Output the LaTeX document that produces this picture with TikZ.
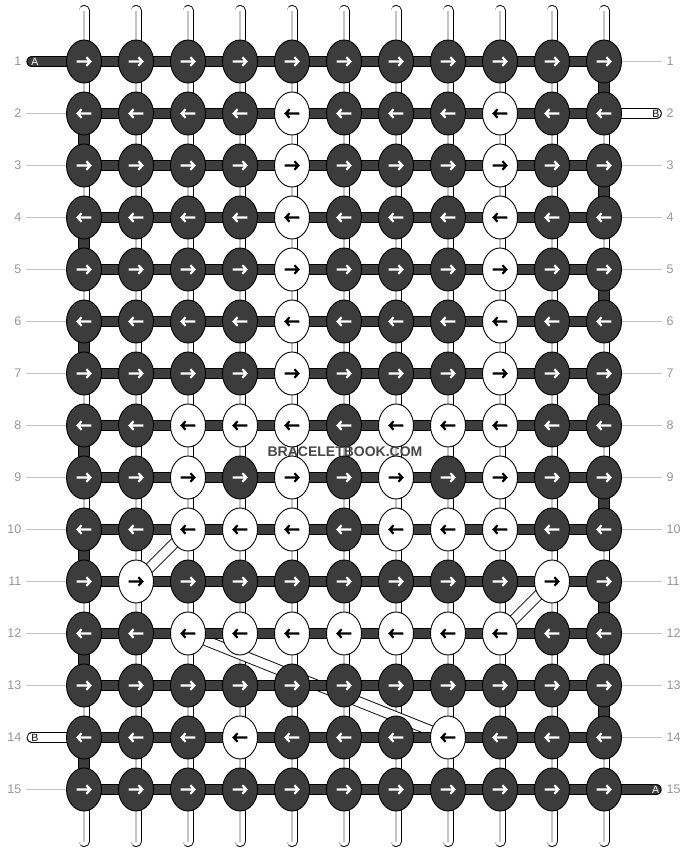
\documentclass[tikz,border=0pt]{standalone}
\usepackage{fontspec}
\setmainfont{Liberation Sans}
\usetikzlibrary{shapes.geometric}
\definecolor{knotdark}{HTML}{3C3C3C}
\definecolor{numgrey}{HTML}{959595}
\definecolor{leadgrey}{HTML}{C2C2C2}
\definecolor{warpgrey}{HTML}{C4C4C4}
\definecolor{wmark}{HTML}{484848}
\pgfdeclarelayer{lab}
\pgfdeclarelayer{warp}
\pgfdeclarelayer{diag}
\pgfdeclarelayer{weft}
\pgfsetlayers{lab,warp,diag,weft,main}
\begin{document}
\begin{tikzpicture}[x=1pt,y=-1pt,
  knot/.style={ellipse, draw=black, line width=0.9pt, minimum width=35pt, minimum height=43pt, inner sep=0pt},
  arrowline/.style={line width=2.2pt, line cap=butt, line join=miter},
  rownum/.style={text=numgrey, font=\fontsize{12.5}{14}\selectfont, inner sep=0pt},
  endlab/.style={font=\fontsize{10.5}{12}\selectfont, inner sep=0pt},
  leader/.style={draw=leadgrey, line width=0.9pt},
  warpout/.style={draw=black, line width=11pt, line cap=round},
  warpin/.style={draw=white, line width=9.2pt, line cap=round},
  warpmid/.style={draw=warpgrey, line width=2.2pt, line cap=butt},
  weftout/.style={draw=black, line width=11.8pt},
  weftin/.style={draw=knotdark, line width=9.8pt},
  bout/.style={draw=black, line width=11.4pt, line cap=round},
  bin/.style={draw=white, line width=9.6pt, line cap=round},
  diagout/.style={draw=black, line width=10.8pt},
  diagin/.style={draw=white, line width=9pt},
  wm/.style={font=\bfseries\fontsize{14}{16}\selectfont, inner sep=0pt}
]
\useasboundingbox (0,0) rectangle (688,852);

% knots
\foreach \r/\wl in {1/{0},2/{5,9},3/{5,9},4/{5,9},5/{5,9},6/{5,9},7/{5,9},8/{3,4,5,7,8,9},9/{3,5,7,9},10/{3,4,5,7,8,9},11/{2,10},12/{3,4,5,6,7,8,9},13/{0},14/{4,8},15/{0}}{
  \foreach \c in {1,...,11}{
    \gdef\kfill{knotdark}\gdef\kcol{white}
    \foreach \w in \wl {\ifnum\w=\c\relax \gdef\kfill{white}\gdef\kcol{black}\fi}
    \node[knot, fill=\kfill] (k-\r-\c) at ({84+52*(\c-1)},{61.5+52*(\r-1)}) {};
    \pgfmathsetmacro\dir{ifthenelse(isodd(\r),1,-1)}
    \draw[arrowline, draw=\kcol, shift={(k-\r-\c.center)}, xscale=\dir]
      (-7.3,0) -- (6,0) (2.4,-4.3) -- (6.3,0) -- (2.4,4.3);
  }
}

% row numbers and leader lines
\begin{pgfonlayer}{lab}
\foreach \r in {1,...,15}{
  \node[rownum, anchor=east] (nl-\r) at (21.5,{61.5+52*(\r-1)}) {\r};
  \node[rownum, anchor=west] (nr-\r) at (666.5,{61.5+52*(\r-1)}) {\r};
}
\foreach \r in {2,...,13,15}{
  \coordinate (ll-\r) at (26,{61.5+52*(\r-1)});
  \draw[leader] (ll-\r) -- (k-\r-1);
}
\foreach \r in {1,3,4,...,14}{
  \coordinate (lr-\r) at (661.7,{61.5+52*(\r-1)});
  \draw[leader] (k-\r-11) -- (lr-\r);
}
\end{pgfonlayer}

% warp strands
\begin{pgfonlayer}{warp}
\foreach \c in {1,...,11}{
  \coordinate (wt-\c) at ({84+52*(\c-1)},10.5);
  \coordinate (wb-\c) at ({84+52*(\c-1)},841.5);
  \draw[warpout] (wt-\c) -- (wb-\c);
  \draw[warpin] (wt-\c) -- (wb-\c);
  \draw[warpmid] (wt-\c) -- (wb-\c);
}
\end{pgfonlayer}

% carried B strands
\begin{pgfonlayer}{diag}
\draw[diagout] (k-10-3.center) -- (k-11-2.center);
\draw[diagout] (k-11-10.center) -- (k-12-9.center);
\draw[diagout] (k-12-3.center) -- (k-14-8.center);
\draw[diagin] (k-10-3.center) -- (k-11-2.center);
\draw[diagin] (k-11-10.center) -- (k-12-9.center);
\draw[diagin] (k-12-3.center) -- (k-14-8.center);
\end{pgfonlayer}

% weft strands
\begin{pgfonlayer}{weft}
\coordinate (aL) at (32.3,61.5);
\coordinate (aR) at (655.8,789.5);
\coordinate (bR) at (656.1,113.5);
\coordinate (bL) at (32.3,737.5);
% outlines
\foreach \r in {1,...,15}{\draw[weftout] (k-\r-1.center) -- (k-\r-11.center);}
\foreach \r in {2,4,...,14}{\pgfmathtruncatemacro\rn{\r+1}\draw[weftout] (k-\r-1.center) -- (k-\rn-1.center);}
\foreach \r in {1,3,...,13}{\pgfmathtruncatemacro\rn{\r+1}\draw[weftout] (k-\r-11.center) -- (k-\rn-11.center);}
\draw[weftout, line cap=round] (aL) -- (k-1-1.center);
\draw[weftout, line cap=round] (k-15-11.center) -- (aR);
% fills
\foreach \r in {1,...,15}{\draw[weftin] (k-\r-1.center) -- (k-\r-11.center);}
\foreach \r in {2,4,...,14}{\pgfmathtruncatemacro\rn{\r+1}\draw[weftin] (k-\r-1.center) -- (k-\rn-1.center);}
\foreach \r in {1,3,...,13}{\pgfmathtruncatemacro\rn{\r+1}\draw[weftin] (k-\r-11.center) -- (k-\rn-11.center);}
\draw[weftin, line cap=round] (aL) -- (k-1-1.center);
\draw[weftin, line cap=round] (k-15-11.center) -- (aR);
% B ends
\draw[bout] (k-2-11.center) -- (bR);
\draw[bin] (k-2-11.center) -- (bR);
\draw[bout] (bL) -- (k-14-1.center);
\draw[bin] (bL) -- (k-14-1.center);
\end{pgfonlayer}

% strand end labels
\node[endlab, text=white] (la-l) at (35,61.5) {A};
\node[endlab, text=white] (la-r) at (655.5,789.5) {A};
\node[endlab, text=black] (lb-r) at (655.8,113.5) {B};
\node[endlab, text=black] (lb-l) at (35,737.5) {B};

% watermark
\node[wm, text=wmark] (wm) at (345,451.5) {BRACELETBOOK.COM};
\end{tikzpicture}
\end{document}
